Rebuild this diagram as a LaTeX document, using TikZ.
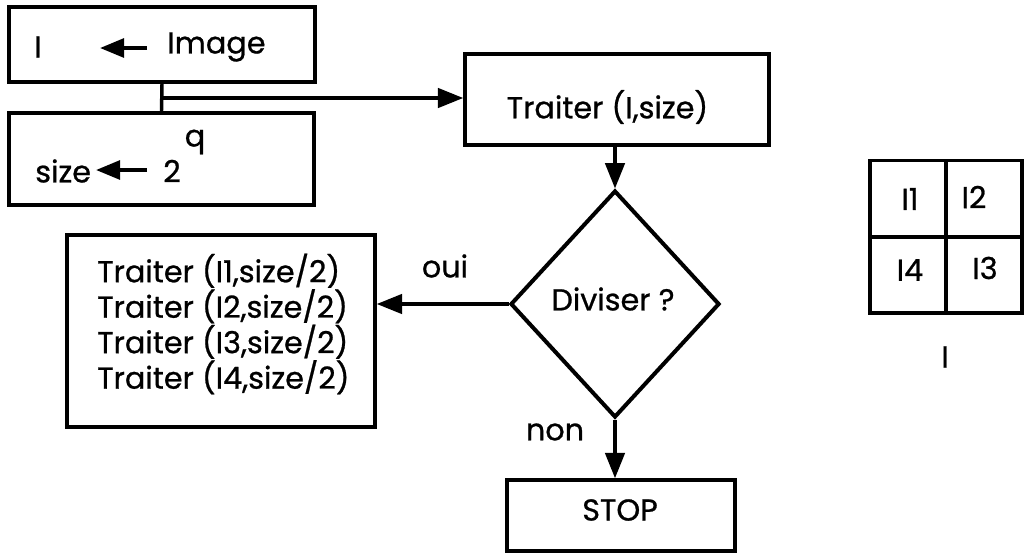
\documentclass[tikz,border=0pt]{standalone}
\usepackage{fontspec}
\setmainfont{Poppins}[BoldFont={Poppins},BoldFeatures={FakeBold=0.8}]
\usetikzlibrary{arrows.meta,shapes.geometric}
\begin{document}
\begin{tikzpicture}[x=0.75pt,y=-0.75pt,
  box/.style={draw,line width=2.6pt,inner sep=0pt,rectangle},
  txt/.style={inner sep=0pt,font=\fontsize{22.7}{25.6}\selectfont\bfseries},
  flow/.style={line width=2.6pt,-{Triangle[length=19pt,width=14.5pt]}},
  inarrow/.style={line width=2.8pt,-{Triangle[length=18pt,width=14pt]}},
  cell/.style={draw,line width=2.4pt,inner sep=0pt,minimum width=57pt,minimum height=57pt}]
  % page frame
  \path[use as bounding box] (0,0) rectangle (1028,554);

  % initialisation boxes
  \node[box,minimum width=229.5pt,minimum height=56.25pt] (init) at (162,44.5) {};
  \node[txt] (vi) at (38,47) {I};
  \node[txt,anchor=west] (vimage) at (167,47) {Image};
  \coordinate (ia) at (147,48);
  \coordinate (ib) at (100,48);
  \draw[inarrow] (ia) -- (ib);

  \node[box,minimum width=228.75pt,minimum height=69pt] (sz) at (161.5,159) {};
  \node[txt,anchor=west] (vsize) at (35,171) {size};
  \node[txt] (vtwo) at (172,171) {2};
  \node[txt] (vq) at (195,142) {q};
  \coordinate (sa) at (147,170);
  \coordinate (sb) at (96,170);
  \draw[inarrow] (sa) -- (sb);

  % main call
  \node[box,minimum width=228pt,minimum height=68.25pt] (call) at (617,99.5) {};
  \node[txt] (calltxt) at (607.5,107) {Traiter (I,size)};

  % junction between the two init boxes
  \coordinate (j) at (162,98);
  \draw[line width=2.6pt] (init.south) -- (sz.north);
  \draw[flow] (j) -- (j -| call.west);

  % decision
  \node[draw,diamond,line width=3pt,inner sep=0pt,minimum width=156.75pt,minimum height=170.25pt] (dec) at (615,304) {};
  \node[txt] (dectxt) at (613,299) {Diviser ?};
  \draw[flow] (call.south -| dec.north) -- (dec.north);

  % recursive calls
  \node[box,minimum width=231pt,minimum height=144pt] (rec) at (221,331) {};
  \node[txt,anchor=west,align=left] (rectxt) at (97,324) {Traiter (I1,size/2)\\Traiter (I2,size/2)\\Traiter (I3,size/2)\\Traiter (I4,size/2)};
  \draw[flow] (dec.west) -- (dec.west -| rec.east);
  \node[txt] (oui) at (445,266) {oui};

  % stop
  \node[box,minimum width=171pt,minimum height=53.25pt] (stop) at (621,515.5) {};
  \node[txt] (stoptxt) at (620,510) {STOP};
  \draw[flow] (dec.south) -- (dec.south |- stop.north);
  \node[txt] (non) at (555,432) {non};

  % quadrant split of the image
  \node[cell] (q1) at (908,198.5) {};
  \node[cell] (q2) at (984,198.5) {};
  \node[cell] (q4) at (908,275) {};
  \node[cell] (q3) at (984,275) {};
  \node[txt] (l1) at (910,199) {I1};
  \node[txt] (l2) at (974,197) {I2};
  \node[txt] (l4) at (910,270) {I4};
  \node[txt] (l3) at (985,268) {I3};
  \node[txt] (limg) at (945,357) {I};
\end{tikzpicture}
\end{document}
